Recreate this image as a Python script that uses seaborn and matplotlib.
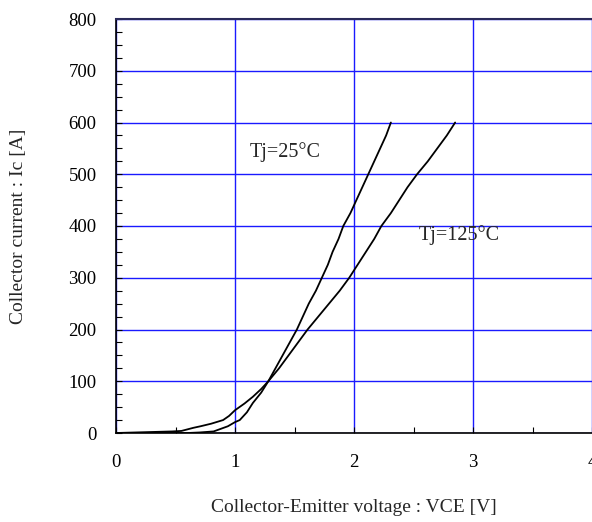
import matplotlib
matplotlib.use("Agg")
import matplotlib.pyplot as plt
import numpy as np
import pandas as pd
import seaborn as sns

# Output characteristics, Tj = 25 °C
vce_25 = [0.0, 0.60, 0.70, 0.82, 0.88, 0.94, 1.00, 1.04, 1.10, 1.15, 1.22, 1.28, 1.34, 1.40,
          1.46, 1.52, 1.57, 1.62, 1.68, 1.73, 1.78, 1.82, 1.87, 1.91, 1.97, 2.02, 2.07,
          2.12, 2.17, 2.22, 2.27, 2.31]
ic_25 = [0, 0, 1, 3, 8, 13, 21, 25, 40, 58, 78, 100, 125, 150,
         175, 200, 225, 250, 275, 300, 325, 350, 375, 400, 425, 450, 475,
         500, 525, 550, 575, 600]

# Output characteristics, Tj = 125 °C
vce_125 = [0.0, 0.47, 0.55, 0.65, 0.71, 0.80, 0.90, 0.95, 1.00, 1.08, 1.15, 1.22, 1.28, 1.37,
           1.45, 1.53, 1.61, 1.70, 1.79, 1.88, 1.96, 2.03, 2.10, 2.17, 2.23, 2.31, 2.38,
           2.45, 2.53, 2.62, 2.70, 2.78, 2.85]
ic_125 = [0, 3, 4, 10, 13, 18, 25, 33, 44, 57, 70, 85, 100, 125,
          150, 175, 200, 225, 250, 275, 300, 325, 350, 375, 400, 425, 450,
          475, 500, 525, 550, 575, 600]

labels = ["Tj=25\u00b0C", "Tj=125\u00b0C"]
label_pos = [(1.125, 543), (2.545, 383)]

x_ticks = [0, 1, 2, 3, 4]
y_ticks = [0, 100, 200, 300, 400, 500, 600, 700, 800]

df = pd.concat([
    pd.DataFrame({"VCE": vce_25, "Ic": ic_25, "Tj": labels[0]}),
    pd.DataFrame({"VCE": vce_125, "Ic": ic_125, "Tj": labels[1]}),
])

sns.set_theme(style="white")
plt.rcParams["font.family"] = ["Liberation Serif", "DejaVu Serif"]

fig = plt.figure(figsize=(5.92, 5.22), dpi=100)
ax = fig.add_axes([116 / 592, 1 - 433 / 522, 476 / 592, 414 / 522])

sns.lineplot(data=df, x="VCE", y="Ic", hue="Tj", palette=["black", "black"],
             linewidth=1.3, legend=False, sort=False, ax=ax, zorder=3)

ax.set_xlim(0, 4)
ax.set_ylim(0, 800)
ax.set_xticks(x_ticks)
ax.set_yticks(y_ticks)
ax.set_xticks(np.arange(0.5, 4, 1.0), minor=True)
ax.set_yticks(np.arange(25, 800, 25), minor=True)
ax.set_xticklabels([str(v) for v in x_ticks])
ax.set_yticklabels([str(v) for v in y_ticks])

ax.grid(True, which="major", color="#1a1aff", linewidth=1.0, zorder=1)
ax.set_axisbelow(True)

ax.tick_params(axis="both", which="both", direction="in", colors="black",
               labelsize=13.5, left=True, bottom=True)
ax.tick_params(axis="both", which="major", length=4, width=0.8)
ax.tick_params(axis="both", which="minor", length=4, width=0.8)
ax.tick_params(axis="y", which="major", pad=14)
ax.tick_params(axis="x", which="major", pad=15)

for side in ["left", "bottom"]:
    ax.spines[side].set_color("black")
    ax.spines[side].set_linewidth(1.2)
ax.spines["top"].set_color("#2a2a5a")
ax.spines["top"].set_linewidth(1.5)
ax.spines["right"].set_visible(False)

ax.set_xlabel("Collector-Emitter voltage : VCE [V]", fontsize=14, labelpad=20)
ax.set_ylabel("Collector current : Ic [A]", fontsize=14, labelpad=30)

for text, (tx, ty) in zip(labels, label_pos):
    ax.text(tx, ty, text, fontsize=14.5, ha="left", va="center", zorder=4)

fig.savefig("out.png", dpi=100)
